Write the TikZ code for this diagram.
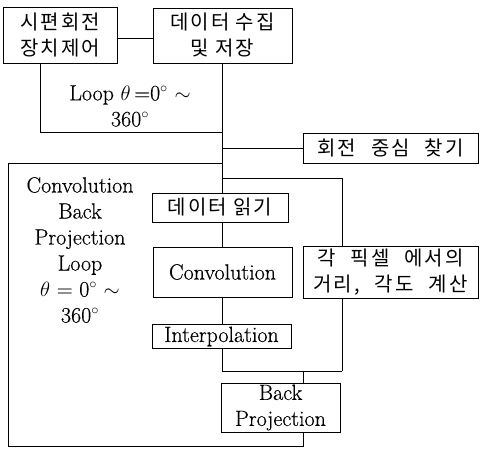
\documentclass[tikz,border=0pt]{standalone}
\usepackage{fontspec}
\setmainfont{Latin Modern Roman}[FakeBold=0.4]
\newfontfamily\kr[LetterSpace=10]{Noto Sans CJK KR}
\newcommand\widesp{\hspace{0.75em}}
\begin{document}
\begin{tikzpicture}[x=1pt,y=-1pt,line width=0.9pt,
  box/.style={draw,inner sep=0pt,align=center},
  krbox/.style={box,font=\kr\fontsize{20}{26}\selectfont},
  enbox/.style={box,font=\fontsize{22}{26}\selectfont},
  lbl/.style={align=center,inner sep=0pt,font=\fontsize{22}{26}\selectfont}]
\useasboundingbox (0,0) rectangle (480,449);

% process boxes
\node[krbox,minimum width=114pt,minimum height=56pt] (ctrl) at (60,35) {시편회전\\장치제어};
\node[krbox,minimum width=139pt,minimum height=55pt] (store) at (222.5,35.5) {데이터 수집\\및 저장};
\node[krbox,minimum width=175pt,minimum height=30pt] (centre) at (390.5,148) {회전\widesp 중심\widesp 찾기};
\node[krbox,minimum width=136pt,minimum height=29pt] (read) at (220,207.5) {데이터 읽기};
\node[enbox,minimum width=139pt,minimum height=50pt] (conv) at (222.5,272) {Convolution};
\node[krbox,minimum width=175pt,minimum height=52pt] (pixel) at (390.5,272) {각\widesp 픽셀\widesp 에서의\\거리,\widesp 각도\widesp 계산};
\node[enbox,minimum width=139pt,minimum height=24pt] (interp) at (221.5,336.5) {Interpolation};
\node[enbox,minimum width=119pt,minimum height=49pt] (bp) at (280.5,407.5) {Back\\Projection};

% loop labels
\node[lbl] (outerlbl) at (130,106) {Loop $\theta$\,=0$^\circ$ $\sim$\\360$^\circ$};
\node[lbl] (innerlbl) at (80,250) {Convolution\\Back\\Projection\\Loop\\$\theta$ = 0$^\circ$ $\sim$\\360$^\circ$};

% trunk and branch points
\coordinate (tA) at (222,132);
\coordinate (tB) at (222,148);
\coordinate (tC) at (222,163);
\coordinate (tD) at (222,178);
\coordinate (pTop) at (342,178);
\coordinate (jL) at (222,371);
\coordinate (jM) at (303,371);
\coordinate (jR) at (342,371);

% connectors
\draw (ctrl.east |- 0,38) -- (store.west |- 0,38);
\draw (store.south -| tA) -- (read.north -| tA);
\draw (ctrl.south -| 40,0) -- (40,132) -- (tA);
\draw (tB) -- (centre.west);
\draw (tD) -- (pTop) -- (pixel.north -| pTop);
\draw (tC) -- (8,163) -- (8,446) -- (303,446) -- (bp.south -| jM);
\draw (read.south -| tA) -- (conv.north -| tA);
\draw (conv.south -| tA) -- (interp.north -| tA);
\draw (interp.south -| jL) -- (jL) -- (jR);
\draw (pixel.south -| jR) -- (jR);
\draw (jM) -- (bp.north -| jM);
\end{tikzpicture}
\end{document}
